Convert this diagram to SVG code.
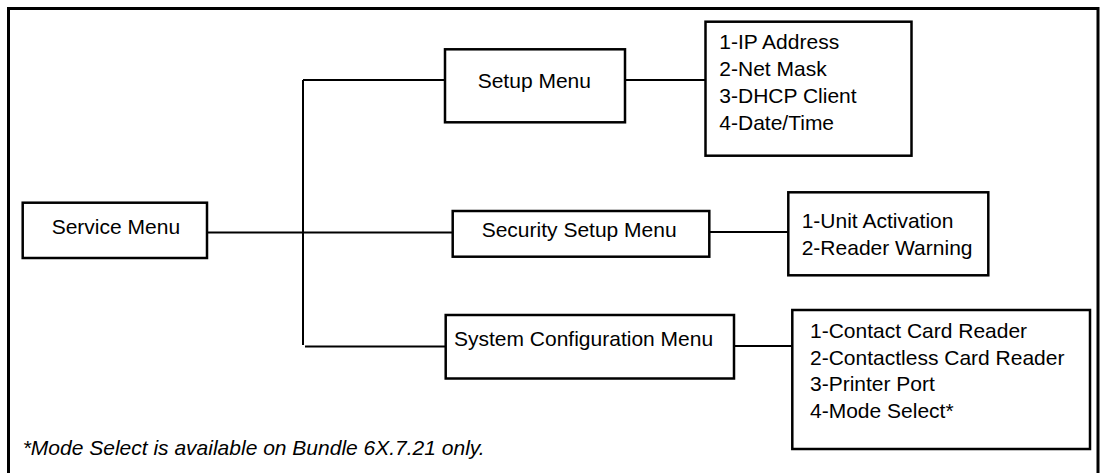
<svg xmlns="http://www.w3.org/2000/svg" width="1102" height="473" viewBox="0 0 1102 473">
  <style>
    .box { fill: #ffffff; stroke: #000000; stroke-width: 2.5; }
    .link { fill: none; stroke: #000000; stroke-width: 2; }
    .frame { fill: none; stroke: #000000; stroke-width: 3; }
    text { font-family: "Liberation Sans", Arial, Helvetica, sans-serif; font-size: 21px; fill: #000000; }
    .note { font-style: italic; }
  </style>

  <rect x="0" y="0" width="1102" height="473" fill="#ffffff"/>

  <!-- outer border, open at the bottom -->
  <path class="frame" d="M8.5,480 V8.5 H1098 V480"/>

  <!-- connectors -->
  <g id="connectors">
    <line class="link" x1="303" y1="80" x2="303" y2="345"/>
    <line class="link" x1="303" y1="80" x2="447" y2="80"/>
    <line class="link" x1="207" y1="232.5" x2="453" y2="232.5"/>
    <line class="link" x1="305" y1="346.5" x2="446" y2="346.5"/>
    <line class="link" x1="625" y1="80" x2="705.5" y2="80"/>
    <line class="link" x1="709" y1="232" x2="788" y2="232"/>
    <line class="link" x1="734" y1="346" x2="792" y2="346"/>
  </g>

  <g id="service-menu">
    <rect class="box" x="22.7" y="202.7" width="184.3" height="55.3"/>
    <text x="51.7" y="234">Service Menu</text>
  </g>

  <g id="setup-menu">
    <rect class="box" x="445" y="49.3" width="180" height="73"/>
    <text x="477.7" y="87.7">Setup Menu</text>
  </g>

  <g id="setup-items">
    <rect class="box" x="705.5" y="21.7" width="206" height="134"/>
    <text x="719.3" y="48.5">1-IP Address</text>
    <text x="719.3" y="75.5">2-Net Mask</text>
    <text x="719.3" y="102.5">3-DHCP Client</text>
    <text x="719.3" y="129.5">4-Date/Time</text>
  </g>

  <g id="security-setup-menu">
    <rect class="box" x="452.7" y="211" width="256.6" height="45.7"/>
    <text x="481.7" y="236.7">Security Setup Menu</text>
  </g>

  <g id="security-items">
    <rect class="box" x="788.3" y="192.3" width="200" height="83"/>
    <text x="801.7" y="228">1-Unit Activation</text>
    <text x="801.7" y="255">2-Reader Warning</text>
  </g>

  <g id="system-configuration-menu">
    <rect class="box" x="445.7" y="315" width="288.3" height="63.5"/>
    <text x="454" y="345.7">System Configuration Menu</text>
  </g>

  <g id="system-items">
    <rect class="box" x="792.3" y="310" width="297.7" height="139"/>
    <text x="810" y="338">1-Contact Card Reader</text>
    <text x="810" y="364.7">2-Contactless Card Reader</text>
    <text x="810" y="391.3">3-Printer Port</text>
    <text x="810" y="418">4-Mode Select*</text>
  </g>

  <g id="footnote">
    <text class="note" x="22.7" y="455">*Mode Select is available on Bundle 6X.7.21 only.</text>
  </g>
</svg>
